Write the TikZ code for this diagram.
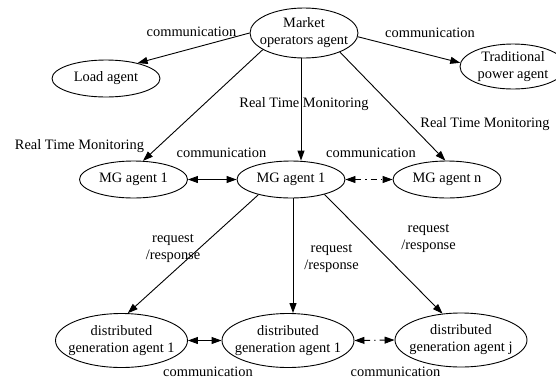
\documentclass[tikz,border=0pt]{standalone}
\usepackage{fontspec}
\setmainfont{Liberation Serif}
\usetikzlibrary{shapes.geometric,arrows.meta}
\begin{document}
\begin{tikzpicture}[x=1pt,y=-1pt,
  txt/.style={font=\fontsize{14.4}{17}\selectfont, align=center, inner sep=0pt},
  agent/.style={ellipse, draw, line width=0.9pt, inner sep=0pt},
  small/.style={agent, minimum width=108pt, minimum height=37pt},
  twoline/.style={agent, minimum width=108pt, minimum height=50pt},
  wide/.style={agent, minimum width=132pt, minimum height=54pt},
  tip/.tip={Triangle[length=10pt,width=7pt]},
  link/.style={line width=0.9pt, -tip},
  both/.style={line width=0.9pt, tip-tip},
  dashdotline/.style={dash pattern=on 6pt off 4pt on 1.5pt off 4pt}]
\useasboundingbox (0,0) rectangle (556,378);

% agents
\node[twoline, label={[txt]center:Market\\operators agent}] (market) at (304,33) {};
\node[small, label={[txt]center:Load agent}] (load) at (106,78.5) {};
\node[agent, minimum width=106pt, minimum height=45pt,
      label={[txt]center:Traditional\\power agent}] (trad) at (513,66.5) {};
\node[small, label={[txt]center:MG agent 1}] (mgA) at (133.5,179.5) {};
\node[small, label={[txt]center:MG agent 1}] (mgB) at (291,179.5) {};
\node[small, label={[txt]center:MG agent n}] (mgN) at (447,179.5) {};
\node[wide, label={[txt]center:distributed\\generation agent 1}] (dgA) at (121.5,340.5) {};
\node[wide, label={[txt]center:distributed\\generation agent 1}] (dgB) at (288,340.5) {};
\node[wide, label={[txt]center:distributed\\generation agent j}] (dgJ) at (461,340) {};

% x positions of the two vertical connectors
\coordinate (vtop) at (301,0);
\coordinate (vbot) at (293,0);

% market operator links
\draw[link] (market.180) -- (load.26);
\draw[link] (market.-4) -- (trad.176);
\draw[link] (market.202) -- (mgA.63);
\draw[link] (market.south -| vtop) -- (mgB.north -| vtop);
\draw[link] (market.-28) -- (mgN.95);

% microgrid links
\draw[both] (mgA.east) -- (mgB.west);
\draw[both, dashdotline] (mgB.east) -- (mgN.west);
\draw[link] (mgB.205) -- (dgA.77);
\draw[link] (mgB.south -| vbot) -- (dgB.north -| vbot);
\draw[link] (mgB.-24) -- (dgJ.125);

% distributed generation links
\draw[both] (dgA.east) -- (dgB.west);
\draw[both, dashdotline] (dgB.east) -- (dgJ.west);

% edge labels
\node[txt] (lc1) at (191.5,32) {communication};
\node[txt] (lc2) at (430,33) {communication};
\node[txt] (lr1) at (79.5,146) {Real Time Monitoring};
\node[txt] (lr2) at (304,104) {Real Time Monitoring};
\node[txt] (lr3) at (485,124) {Real Time Monitoring};
\node[txt] (lc3) at (221.5,153) {communication};
\node[txt] (lc4) at (371,153) {communication};
\node[txt] (lq1) at (173,248) {request\\/response};
\node[txt] (lq2) at (331.5,258) {request\\/response};
\node[txt] (lq3) at (428.5,238.5) {request\\/response};
\node[txt] (lc5) at (208,371.5) {communication};
\node[txt] (lc6) at (395.5,371.5) {communication};
\end{tikzpicture}
\end{document}
